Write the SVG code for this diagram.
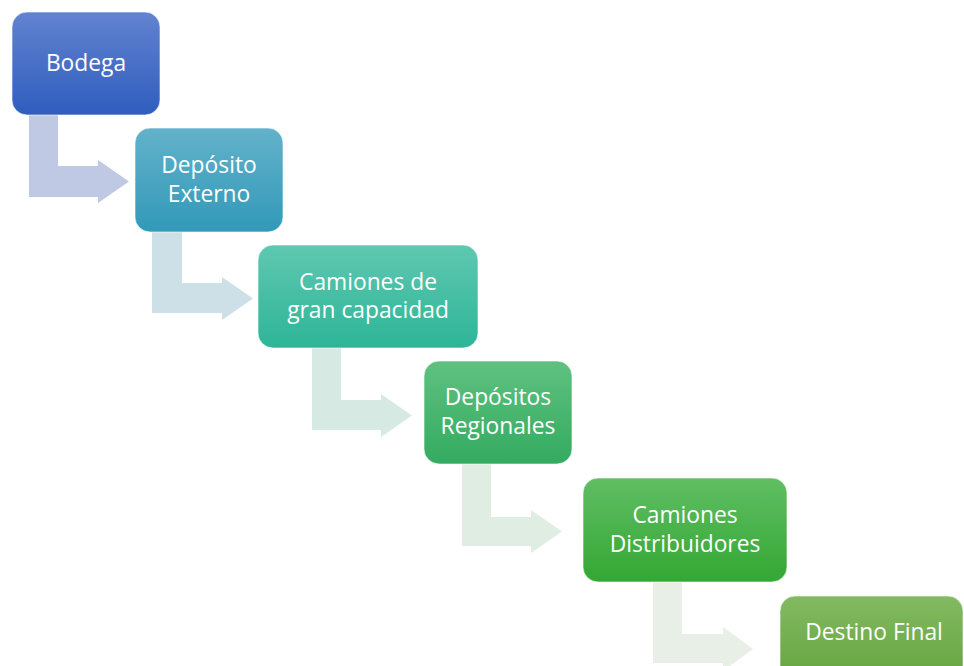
<svg xmlns="http://www.w3.org/2000/svg" width="964" height="666" viewBox="0 0 964 666">
<defs>
<linearGradient id="g1" x1="0" y1="0" x2="0" y2="1"><stop offset="0" stop-color="#6283d0"/><stop offset="1" stop-color="#2f5dbe"/></linearGradient>
<linearGradient id="g2" x1="0" y1="0" x2="0" y2="1"><stop offset="0" stop-color="#62b2ca"/><stop offset="1" stop-color="#3299b9"/></linearGradient>
<linearGradient id="g3" x1="0" y1="0" x2="0" y2="1"><stop offset="0" stop-color="#5fc8b1"/><stop offset="1" stop-color="#2db597"/></linearGradient>
<linearGradient id="g4" x1="0" y1="0" x2="0" y2="1"><stop offset="0" stop-color="#5fc180"/><stop offset="1" stop-color="#33ab60"/></linearGradient>
<linearGradient id="g5" x1="0" y1="0" x2="0" y2="1"><stop offset="0" stop-color="#60be63"/><stop offset="1" stop-color="#33a733"/></linearGradient>
<linearGradient id="g6" x1="0" y1="0" x2="0" y2="1"><stop offset="0" stop-color="#83ba62"/><stop offset="1" stop-color="#5e9f36"/></linearGradient>
</defs>
<style>
.box{stroke:#ffffff;stroke-opacity:0.6;stroke-width:1}
.t{font-family:"Open Sans","Noto Sans",sans-serif;font-size:22.8px;fill:#ffffff;text-anchor:middle}
</style>
<g id="connectors">
<path fill="#c0c9e4" d="M29 115 H58 V166 H98 V160 L129 181.5 L98 203 V197 H29 Z"/>
<path fill="#cde0e7" d="M152 232 H182 V283 H222 V277 L253 298.5 L222 320 V313 H152 Z"/>
<path fill="#d6eae3" d="M312 348 H341 V400 H381 V394 L412 415.5 L381 437 V430 H312 Z"/>
<path fill="#dfede2" d="M462 464 H491 V517 H531 V510 L562 531.5 L531 553 V546 H462 Z"/>
<path fill="#e8efe6" d="M653 582 H682 V634 H723 V627 L753 649 L723 671 V663 H653 Z"/>
</g>
<g id="n1"><rect class="box" x="12" y="12" width="148" height="103" rx="15" fill="url(#g1)"/><text class="t" x="86" y="71">Bodega</text></g>
<g id="n2"><rect class="box" x="135" y="128" width="148" height="104" rx="15" fill="url(#g2)"/><text class="t" x="209" y="173">Depósito</text><text class="t" x="209" y="202">Externo</text></g>
<g id="n3"><rect class="box" x="258" y="245" width="220" height="103" rx="15" fill="url(#g3)"/><text class="t" x="368" y="290">Camiones de</text><text class="t" x="368" y="318">gran capacidad</text></g>
<g id="n4"><rect class="box" x="424" y="361" width="148" height="103" rx="15" fill="url(#g4)"/><text class="t" x="498" y="405">Depósitos</text><text class="t" x="498" y="434">Regionales</text></g>
<g id="n5"><rect class="box" x="583" y="478" width="204" height="104" rx="15" fill="url(#g5)"/><text class="t" x="685" y="523">Camiones</text><text class="t" x="685" y="552">Distribuidores</text></g>
<g id="n6"><rect class="box" x="780" y="596" width="183" height="104" rx="15" fill="url(#g6)"/><text class="t" x="874" y="640">Destino Final</text></g>
</svg>
